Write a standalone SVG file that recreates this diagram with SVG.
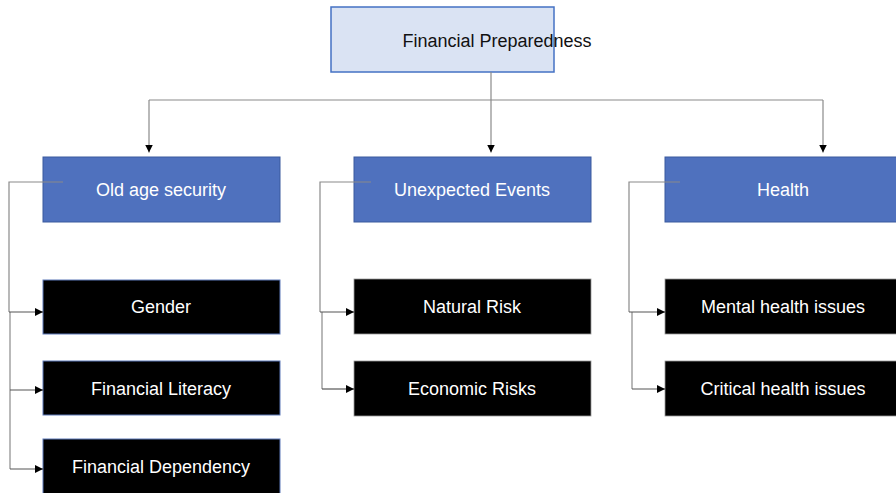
<svg xmlns="http://www.w3.org/2000/svg" width="896" height="493" viewBox="0 0 896 493">
  <style>
    .root rect { fill: #dae3f3; stroke: #4472c4; stroke-width: 1.5; }
    .cat rect { fill: #4f71be; stroke: #3b5a9e; stroke-width: 1; }
    .leaf rect { fill: #000000; stroke: #5d79b8; stroke-width: 1; }
    .leaf2 rect { fill: #000000; stroke: #9a9a9a; stroke-width: 0.8; }
    text { font-family: "Liberation Sans", Arial, sans-serif; font-size: 18px; text-anchor: middle; dominant-baseline: central; }
    .root text { fill: #111111; }
    .cat text, .leaf text, .leaf2 text { fill: #ffffff; }
    .conn { fill: none; stroke: #8a8a8a; stroke-width: 1.2; }
    .conn-arrow { fill: none; stroke: #555555; stroke-width: 1.2; }
  </style>
  <defs>
    <marker id="arrow" viewBox="0 0 10 10" refX="10" refY="5" markerWidth="8" markerHeight="8" markerUnits="userSpaceOnUse" orient="auto">
      <path d="M0,0 L10,5 L0,10 Z" fill="#000000"/>
    </marker>
  </defs>

  <rect width="896" height="493" fill="#ffffff"/>

  <!-- root -->
  <g id="node-financial-preparedness" class="root">
    <rect x="331" y="7" width="223" height="65"/>
    <text x="497" y="41">Financial Preparedness</text>
  </g>

  <!-- categories -->
  <g id="node-old-age-security" class="cat">
    <rect x="43" y="157" width="237" height="65"/>
    <text x="161" y="190">Old age security</text>
  </g>
  <g id="node-unexpected-events" class="cat">
    <rect x="354" y="157" width="237" height="65"/>
    <text x="472" y="190">Unexpected Events</text>
  </g>
  <g id="node-health" class="cat">
    <rect x="665" y="157" width="237" height="65"/>
    <text x="783" y="190">Health</text>
  </g>

  <!-- Old age security factors -->
  <g id="node-gender" class="leaf">
    <rect x="43" y="280" width="237" height="54"/>
    <text x="161" y="307">Gender</text>
  </g>
  <g id="node-financial-literacy" class="leaf">
    <rect x="43" y="361" width="237" height="54"/>
    <text x="161" y="389">Financial Literacy</text>
  </g>
  <g id="node-financial-dependency" class="leaf">
    <rect x="43" y="439" width="237" height="58"/>
    <text x="161" y="467">Financial Dependency</text>
  </g>

  <!-- Unexpected Events factors -->
  <g id="node-natural-risk" class="leaf2">
    <rect x="354" y="279" width="237" height="55"/>
    <text x="472" y="307">Natural Risk</text>
  </g>
  <g id="node-economic-risks" class="leaf2">
    <rect x="354" y="361" width="237" height="55"/>
    <text x="472" y="389">Economic Risks</text>
  </g>

  <!-- Health factors -->
  <g id="node-mental-health" class="leaf2">
    <rect x="665" y="279" width="237" height="55"/>
    <text x="783" y="307">Mental health issues</text>
  </g>
  <g id="node-critical-health" class="leaf2">
    <rect x="665" y="361" width="237" height="55"/>
    <text x="783" y="389">Critical health issues</text>
  </g>

  <!-- connectors, drawn over the boxes so the elbow starts inside each category -->
  <g id="connectors">
    <!-- root to categories -->
    <path class="conn" d="M491,72 V100"/>
    <path class="conn" d="M149,100 H823"/>
    <path class="conn" d="M149,100 V152.5" marker-end="url(#arrow)"/>
    <path class="conn" d="M491,100 V152.5" marker-end="url(#arrow)"/>
    <path class="conn" d="M823,100 V152.5" marker-end="url(#arrow)"/>

    <!-- Old age security branch -->
    <path class="conn" d="M63,182 H9 V312"/>
    <path class="conn" d="M10,312 V469"/>
    <path class="conn-arrow" d="M9,312 H43" marker-end="url(#arrow)"/>
    <path class="conn-arrow" d="M10,390 H43" marker-end="url(#arrow)"/>
    <path class="conn-arrow" d="M10,469 H43" marker-end="url(#arrow)"/>

    <!-- Unexpected Events branch -->
    <path class="conn" d="M371,182 H320 V312"/>
    <path class="conn" d="M322,312 V389"/>
    <path class="conn-arrow" d="M320,312 H354" marker-end="url(#arrow)"/>
    <path class="conn-arrow" d="M322,389 H354" marker-end="url(#arrow)"/>

    <!-- Health branch -->
    <path class="conn" d="M680,182 H629 V312"/>
    <path class="conn" d="M632,312 V389"/>
    <path class="conn-arrow" d="M629,312 H665" marker-end="url(#arrow)"/>
    <path class="conn-arrow" d="M632,389 H665" marker-end="url(#arrow)"/>
  </g>
</svg>
